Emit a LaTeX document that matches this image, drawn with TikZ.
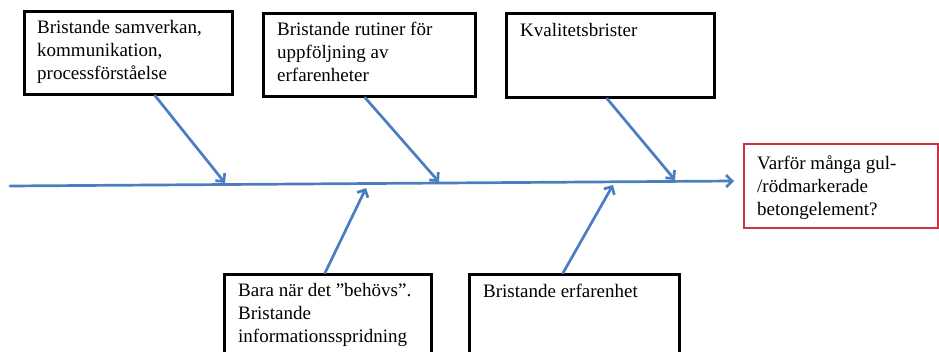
\documentclass[tikz,border=0pt]{standalone}
\usepackage{fontspec}
\setmainfont{Liberation Serif}
\usetikzlibrary{arrows.meta}
\definecolor{bonecol}{RGB}{74,126,192}
\definecolor{goalcol}{RGB}{206,52,64}
\tikzset{
  causebox/.style={draw=black, line width=2.6pt, rectangle, inner sep=0pt, anchor=north west},
  goalbox/.style={draw=goalcol, line width=2pt, rectangle, inner sep=0pt, anchor=north west},
  boxtext/.style={anchor=north west, inner sep=0pt, align=left, font=\fontsize{19}{23}\selectfont},
  bone/.style={draw=bonecol, line width=2.7pt, line cap=round,
    -{Straight Barb[length=6pt,width=12pt,line width=2.7pt]}},
}
\begin{document}
\begin{tikzpicture}[x=1pt,y=-1pt]
  \useasboundingbox (0,0) rectangle (939,352);
  \clip (0,0) rectangle (939,352);

  % cause boxes above the spine
  \node[causebox, minimum width=208pt, minimum height=83pt] (b1) at (23,10) {};
  \node[causebox, minimum width=212pt, minimum height=83pt] (b2) at (262,12) {};
  \node[causebox, minimum width=208pt, minimum height=84pt] (b3) at (505,12) {};
  % cause boxes below the spine (running past the lower edge)
  \node[causebox, minimum width=207pt, minimum height=110pt] (b4) at (223,273) {};
  \node[causebox, minimum width=210pt, minimum height=110pt] (b5) at (468,273) {};
  % effect box
  \node[goalbox, minimum width=194pt, minimum height=84pt] (goal) at (743,143) {};

  % box texts
  \node[boxtext] (t1) at ([xshift=14pt,yshift=-10pt]b1.north west)
    {Bristande samverkan,\\kommunikation,\\processförståelse};
  \node[boxtext] (t2) at ([xshift=15pt,yshift=-10pt]b2.north west)
    {Bristande rutiner för\\uppföljning av\\erfarenheter};
  \node[boxtext] (t3) at ([xshift=15pt,yshift=-11pt]b3.north west)
    {Kvalitetsbrister};
  \node[boxtext] (t4) at ([xshift=15pt,yshift=-10pt]b4.north west)
    {Bara när det ”behövs”.\\Bristande\\informationsspridning};
  \node[boxtext] (t5) at ([xshift=15pt,yshift=-11pt]b5.north west)
    {Bristande erfarenhet};
  \node[boxtext] (tg) at ([xshift=14pt,yshift=-13pt]goal.north west)
    {Varför många gul-\\/rödmarkerade\\betongelement?};

  % spine
  \coordinate (tail) at (10,186);
  \draw[bone] (tail) -- ([xshift=-9pt,yshift=5pt]goal.west);

  % where the ribs meet the spine
  \coordinate (j1) at (225,183);
  \coordinate (j2) at (439,182);
  \coordinate (j3) at (675,180);
  \coordinate (j4) at (366,188);
  \coordinate (j5) at (613,185);

  % ribs
  \draw[bone] ([xshift=132pt]b1.south west) -- (j1);
  \draw[bone] ([xshift=103pt]b2.south west) -- (j2);
  \draw[bone] ([xshift=102pt]b3.south west) -- (j3);
  \draw[bone] ([xshift=102pt]b4.north west) -- (j4);
  \draw[bone] ([xshift=95pt]b5.north west) -- (j5);
\end{tikzpicture}
\end{document}
